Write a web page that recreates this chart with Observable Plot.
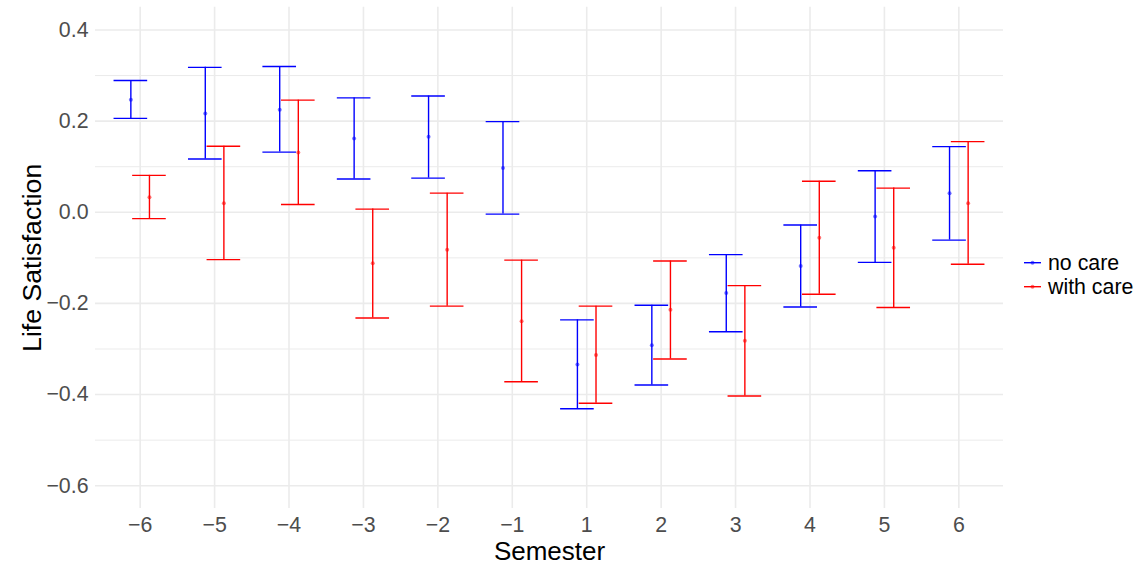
<!DOCTYPE html>
<html><head><meta charset="utf-8">
<script src="https://cdn.jsdelivr.net/npm/d3@7"></script>
<script src="https://cdn.jsdelivr.net/npm/@observablehq/plot@0.6"></script>
<style>body{margin:0;background:#fff} svg{display:block}</style>
</head><body><div id="chart"></div>
<script>
const semesters = [-6, -5, -4, -3, -2, -1, 1, 2, 3, 4, 5, 6];
const noCareEst = [0.247, 0.217, 0.225, 0.162, 0.166, 0.097, -0.334, -0.292, -0.177, -0.118, -0.009, 0.042];
const noCareLo  = [0.206, 0.117, 0.132, 0.073, 0.075, -0.004, -0.431, -0.379, -0.262, -0.208, -0.110, -0.061];
const noCareHi  = [0.289, 0.318, 0.320, 0.251, 0.255, 0.199, -0.236, -0.204, -0.093, -0.028, 0.091, 0.144];
const careEst = [0.033, 0.020, 0.131, -0.112, -0.082, -0.239, -0.313, -0.214, -0.282, -0.056, -0.078, 0.020];
const careLo  = [-0.014, -0.104, 0.017, -0.232, -0.206, -0.372, -0.419, -0.322, -0.403, -0.180, -0.209, -0.114];
const careHi  = [0.081, 0.145, 0.246, 0.007, 0.042, -0.105, -0.206, -0.107, -0.161, 0.068, 0.053, 0.155];
const seriesNames = ["no care", "with care"];
const seriesColors = ["#0000FF", "#FF0000"];
const yMajorTicks = [-0.6, -0.4, -0.2, 0, 0.2, 0.4];
const yMinorTicks = [-0.5, -0.3, -0.1, 0.1, 0.3];
const xTitle = "Semester";
const yTitle = "Life Satisfaction";

const FONT = "'Liberation Sans', Arial, Helvetica, sans-serif";
const fmtX = d => d < 0 ? "\u2212" + Math.abs(d) : String(d);
const fmtY = d => (d < 0 ? "\u2212" : "") + Math.abs(d).toFixed(1);

const seriesData = [
  {est: noCareEst, lo: noCareLo, hi: noCareHi},
  {est: careEst, lo: careLo, hi: careHi}
];
const rows = [];
seriesNames.forEach((name, k) => {
  semesters.forEach((s, i) => {
    rows.push({semester: s, series: name, est: seriesData[k].est[i], lo: seriesData[k].lo[i], hi: seriesData[k].hi[i]});
  });
});

const dodge = [-9.3, 9.3];
const capInset = 20.4;
const LW = 1.4;

const seriesMarks = seriesNames.flatMap((name, k) => {
  const data = rows.filter(r => r.series === name);
  const c = seriesColors[k];
  const dx = dodge[k];
  return [
    Plot.ruleX(data, {x: "semester", y1: "lo", y2: "hi", stroke: c, strokeWidth: LW, dx}),
    Plot.tickY(data, {x: "semester", y: "lo", stroke: c, strokeWidth: LW, dx, insetLeft: capInset, insetRight: capInset}),
    Plot.tickY(data, {x: "semester", y: "hi", stroke: c, strokeWidth: LW, dx, insetLeft: capInset, insetRight: capInset}),
    Plot.dot(data, {x: "semester", y: "est", r: 2, fill: c, fillOpacity: 0.55, stroke: null, dx})
  ];
});

const plot = Plot.plot({
  width: 1146, height: 569,
  marginLeft: 95, marginRight: 143, marginTop: 6.7, marginBottom: 61,
  x: {type: "band", domain: semesters, paddingInner: 0, paddingOuter: 0.1, round: false},
  y: {domain: [-0.65, 0.45]},
  style: {fontFamily: FONT, background: "#fff"},
  marks: [
    Plot.gridY(yMinorTicks, {stroke: "#EBEBEB", strokeOpacity: 1, strokeWidth: 1.0}),
    Plot.gridY(yMajorTicks, {stroke: "#EBEBEB", strokeOpacity: 1, strokeWidth: 1.6}),
    Plot.gridX(semesters, {stroke: "#EBEBEB", strokeOpacity: 1, strokeWidth: 1.6}),
    Plot.axisY(yMajorTicks, {tickSize: 0, tickPadding: 7, tickFormat: fmtY, fontSize: 21.33, fill: "#4D4D4D", label: null}),
    Plot.axisX(semesters, {tickSize: 0, tickPadding: 8, tickFormat: fmtX, fontSize: 21.33, fill: "#4D4D4D", label: null}),
    Plot.text([yTitle], {text: d => d, frameAnchor: "left", textAnchor: "middle", lineAnchor: "middle", dx: -63, rotate: -90, fontSize: 26.67, fill: "#000"}),
    Plot.text([xTitle], {text: d => d, frameAnchor: "bottom", textAnchor: "middle", lineAnchor: "middle", dy: 43.5, fontSize: 26, fill: "#000"}),
    ...seriesMarks
  ]
});

document.getElementById("chart").appendChild(plot);

// legend
const svg = d3.select(plot);
const lg = svg.append("g").attr("font-family", FONT).attr("font-size", 21.33).attr("text-anchor", "start");
seriesNames.forEach((name, k) => {
  const y = 262.7 + k * 24;
  const g = lg.append("g").attr("transform", `translate(1023,${y})`);
  g.append("line").attr("x1", 1).attr("x2", 18).attr("y1", 0).attr("y2", 0)
    .attr("stroke", seriesColors[k]).attr("stroke-width", LW);
  g.append("circle").attr("cx", 9.5).attr("cy", 0).attr("r", 2)
    .attr("fill", seriesColors[k]).attr("fill-opacity", 0.55);
  g.append("text").attr("x", 25).attr("y", 0).attr("dy", "0.35em").attr("text-anchor", "start").attr("fill", "#000").text(name);
});
</script>
</body></html>
